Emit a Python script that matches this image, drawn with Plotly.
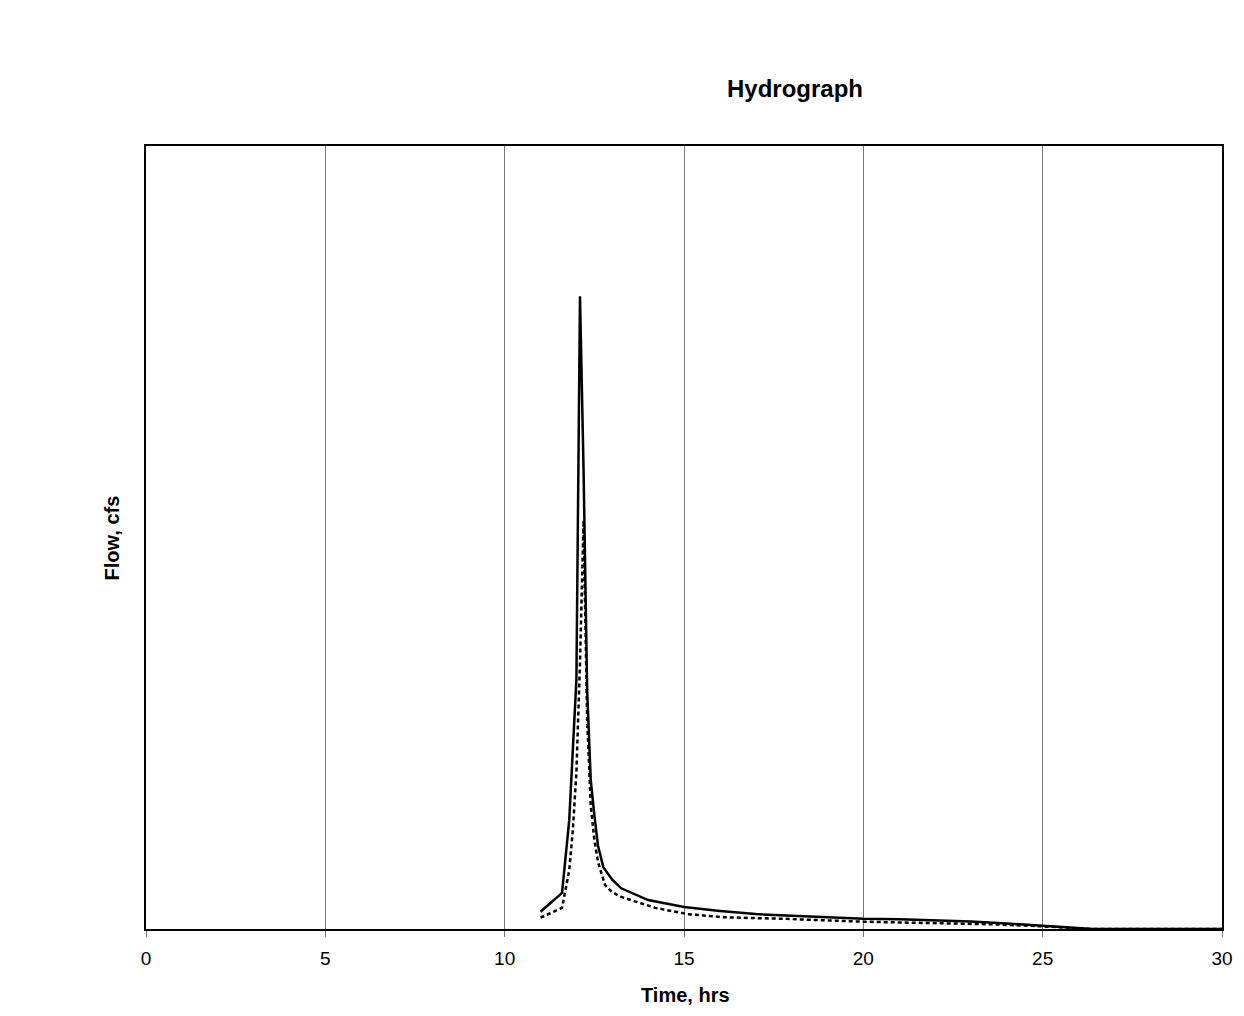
import plotly.graph_objects as go

# Time (hrs) and flow (relative units; y-axis unlabeled in the original)
t_solid = [11.0, 11.6, 11.8, 12.0, 12.1, 12.2, 12.3, 12.4, 12.5, 12.6, 12.75, 13.0, 13.25,
           14.0, 15.0, 16.0, 17.0, 18.0, 19.0, 20.0, 21.0, 22.0, 23.0, 24.0, 25.0, 26.4, 30.0]
q_solid = [2.2, 4.6, 13.9, 31.8, 80.8, 58.6, 30.5, 19.0, 14.6, 10.7, 7.9, 6.3, 5.2,
           3.7, 2.8, 2.3, 1.9, 1.7, 1.5, 1.3, 1.25, 1.1, 0.95, 0.7, 0.38, 0.0, 0.0]

t_dash = [11.0, 11.6, 11.8, 11.9, 12.0, 12.1, 12.2, 12.3, 12.4, 12.5, 12.6, 12.8, 13.0, 13.25,
          14.2, 15.1, 16.1, 17.8, 20.0, 22.0, 23.6, 25.0, 26.4, 30.0]
q_dash = [1.45, 2.7, 7.5, 12.6, 20.0, 34.0, 52.2, 26.7, 15.8, 11.4, 8.6, 5.6, 4.7, 4.1,
          2.7, 1.9, 1.5, 1.3, 0.93, 0.75, 0.6, 0.34, 0.0, 0.0]

x_ticks = [0, 5, 10, 15, 20, 25, 30]

fig = go.Figure()
fig.add_trace(go.Scatter(x=t_solid, y=q_solid, mode="lines",
                         line=dict(color="black", width=2.5), showlegend=False))
fig.add_trace(go.Scatter(x=t_dash, y=q_dash, mode="lines",
                         line=dict(color="black", width=2.5, dash="4px,3px"), showlegend=False))

fig.update_layout(
    width=1236, height=1008,
    margin=dict(l=138, r=22, t=138, b=87),
    plot_bgcolor="white", paper_bgcolor="white",
    font=dict(family="Liberation Sans, Arial, sans-serif", color="black", size=19),
    xaxis=dict(range=[0, 30], tickvals=x_ticks, ticktext=[str(v) for v in x_ticks],
               showgrid=True, gridcolor="#777777", gridwidth=1,
               showline=True, linecolor="black", linewidth=2, mirror=True,
               ticks="outside", ticklen=6, tickcolor="#777777", zeroline=False,
               ticklabelstandoff=5),
    yaxis=dict(range=[0, 100], showticklabels=False, showgrid=False,
               showline=True, linecolor="black", linewidth=2, mirror=True,
               ticks="", zeroline=False),
    annotations=[
        dict(text="<b>Hydrograph</b>", x=0.603, y=1.074, xref="paper", yref="paper",
             showarrow=False, font=dict(size=24), xanchor="center", yanchor="middle"),
        dict(text="<b>Time, hrs</b>", x=0.501, y=-0.0843, xref="paper", yref="paper",
             showarrow=False, font=dict(size=20), xanchor="center", yanchor="middle"),
        dict(text="<b>Flow, cfs</b>", x=-0.0316, y=0.5, xref="paper", yref="paper",
             showarrow=False, font=dict(size=20), textangle=-90,
             xanchor="center", yanchor="middle"),
    ],
)

fig.write_html("out.html")
